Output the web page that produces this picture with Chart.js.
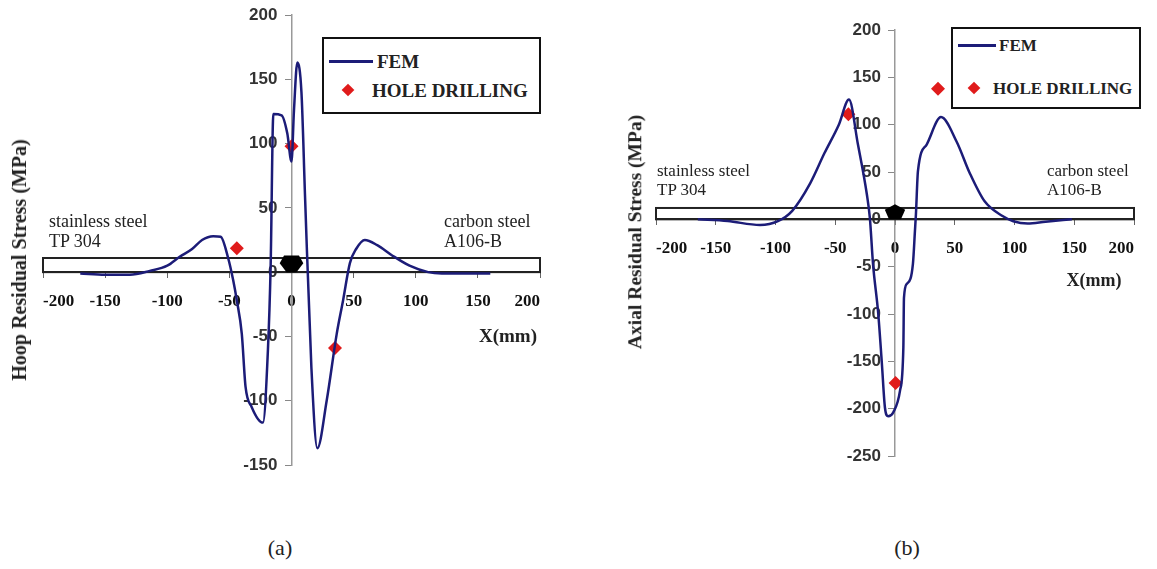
<!DOCTYPE html>
<html>
<head>
<meta charset="utf-8">
<script src="https://cdn.jsdelivr.net/npm/chart.js@4.4.1/dist/chart.umd.min.js"></script>
<style>
  body { margin: 0; background: #fff; }
  #page { position: relative; width: 1157px; height: 569px; overflow: hidden; font-family: 'Liberation Serif', serif; color: #222; }
  canvas { position: absolute; top: 0; }
  .lbl { position: absolute; white-space: nowrap; line-height: 1; }
  .legend { position: absolute; border: 2.5px solid #111; box-sizing: border-box; background: #fff; }
  .swatch { position: absolute; height: 3px; background: #1c1c78; }
  .diamond { position: absolute; width: 9px; height: 9px; background: #e01b1b; transform: translate(-50%, -50%) rotate(45deg); }
</style>
</head>
<body>
<div id="page">
  <canvas id="hoop" width="578" height="500" style="left:0"></canvas>
  <canvas id="axial" width="579" height="500" style="left:578px"></canvas>
</div>
<script>
// (a) hoop residual stress
const hoopFemX = [-170, -150, -130, -114, -100, -90, -80, -72, -63, -57, -51, -47, -44, -40, -37, -32, -23, -19, -16.8, -14.6, -8, -3.4, 0, 2, 4.7, 8, 11, 16, 20.8, 28.3, 36.4, 41.5, 47, 52, 59, 69, 81, 95, 110, 121, 160];
const hoopFemY = [-1, -2, -2, 1, 5, 12, 18, 25, 28, 27.5, 11, -6, -22, -48, -89, -105, -117, -61, 4, 123, 122, 108, 86, 126, 163, 140, 56, -74, -137, -100, -48, -22, 7, 18, 25, 21, 13, 5, 0, -1, -1];
const hoopHoleX = [-44, 0, 35];
const hoopHoleY = [18.5, 98, -59];

// (b) axial residual stress
const axialFemX = [-165, -140, -113, -98, -86, -71, -59, -47, -38.5, -31, -23.5, -21, -18.4, -14, -11, -8.4, -5.7, -1.5, 4.2, 7, 7.5, 10, 15, 16.7, 17.5, 19.2, 26.5, 38.5, 51.6, 62.5, 75, 90, 99, 111, 126, 148];
const axialFemY = [0, -1.8, -6, -2, 9, 38, 70, 100, 126.5, 79, 26, 1, -47, -100, -152, -199, -208, -204, -181, -135, -83, -68, -47, -12, 5, 51, 79, 108, 82, 49, 19, 3.5, -2, -4.5, -2.5, 0];
const axialHoleX = [-39, 0.5, 36];
const axialHoleY = [111, -173, 138];

const xRange = [-200, 200];
const hoopYRange = [-150, 200];
const axialYRange = [-250, 200];
const tickStep = 50;

// pipe wall outline and weld bead, in data units
const hoopPipeTop = 11;
const axialPipeTop = 12;
const hoopWeldX = [-6, 6, 9.5, 4, -4, -9.5];
const hoopWeldY = [13, 13, 7, 0, 0, 7];
const axialWeldX = [0, 8.5, 5, -5, -8.5];
const axialWeldY = [16, 10, 0, 0, 10];

const toPoints = (xs, ys) => xs.map((x, i) => ({x: x, y: ys[i]}));

const pipePlugin = {
  id: 'pipe',
  beforeDatasetsDraw(chart, args, opts) {
    const {x, y} = chart.scales;
    const ctx = chart.ctx;
    const l = x.getPixelForValue(x.min), r = x.getPixelForValue(x.max);
    const t = y.getPixelForValue(opts.top), b = y.getPixelForValue(0);
    ctx.save();
    ctx.strokeStyle = '#222';
    ctx.lineWidth = 2;
    ctx.strokeRect(l, t, r - l, b - t);
    ctx.restore();
  },
  afterDraw(chart, args, opts) {
    const {x, y} = chart.scales;
    const ctx = chart.ctx;
    ctx.save();
    ctx.beginPath();
    opts.weldX.forEach((wx, i) => {
      const px = x.getPixelForValue(wx), py = y.getPixelForValue(opts.weldY[i]);
      if (i) ctx.lineTo(px, py); else ctx.moveTo(px, py);
    });
    ctx.closePath();
    ctx.fillStyle = '#000';
    ctx.fill();
    ctx.restore();
  }
};

function makeChart(id, fem, holes, yRange, padding, pipe) {
  return new Chart(document.getElementById(id), {
    data: {
      datasets: [
        {type: 'line', label: 'FEM', data: fem, borderColor: '#1c1c78', borderWidth: 2.5,
         pointRadius: 0, cubicInterpolationMode: 'monotone', fill: false},
        {type: 'scatter', label: 'HOLE DRILLING', data: holes, pointStyle: 'rectRot',
         pointRadius: 7, backgroundColor: '#e01b1b', borderWidth: 0}
      ]
    },
    options: {
      responsive: false,
      animation: false,
      layout: {padding: padding},
      plugins: {legend: {display: false}, tooltip: {enabled: false}, pipe: pipe},
      scales: {
        x: {
          type: 'linear', min: xRange[0], max: xRange[1], position: {y: 0},
          ticks: {stepSize: tickStep, maxRotation: 0, autoSkip: false, color: '#111', padding: 14,
                  align: 'inner', font: {family: 'Liberation Serif', weight: 'bold', size: 17}},
          grid: {drawOnChartArea: false, tickLength: 5, color: '#666'},
          border: {color: '#222', width: 2},
          afterFit: (s) => { s.height = 0; }
        },
        y: {
          type: 'linear', min: yRange[0], max: yRange[1], position: {x: 0},
          ticks: {stepSize: tickStep, color: '#333',
                  // the centred axis puts labels flush on the line; trailing spaces give the gap
                  callback: (v) => v + '   ',
                  font: {family: 'Liberation Sans', weight: 'bold', size: 17}},
          grid: {drawOnChartArea: false, tickLength: 6, color: '#888'},
          border: {color: '#999', width: 1.5},
          afterFit: (s) => { s.width = 0; }
        }
      }
    },
    plugins: [pipePlugin]
  });
}

makeChart('hoop', toPoints(hoopFemX, hoopFemY), toPoints(hoopHoleX, hoopHoleY), hoopYRange,
  {left: 43, right: 38, top: 15, bottom: 35},
  {top: hoopPipeTop, weldX: hoopWeldX, weldY: hoopWeldY});
makeChart('axial', toPoints(axialFemX, axialFemY), toPoints(axialHoleX, axialHoleY), axialYRange,
  {left: 78, right: 23, top: 30, bottom: 44},
  {top: axialPipeTop, weldX: axialWeldX, weldY: axialWeldY});

// text around the plots
const page = document.getElementById('page');
function addText(text, x, y, size, bold, anchor, rotate) {
  const d = document.createElement('div');
  d.className = 'lbl';
  d.textContent = text;
  d.style.left = x + 'px';
  d.style.top = y + 'px';
  d.style.fontSize = size + 'px';
  d.style.fontWeight = bold ? 'bold' : 'normal';
  const tx = anchor === 'left' ? '0' : '-50%';
  d.style.transform = 'translate(' + tx + ', -50%)' + (rotate ? ' rotate(-90deg)' : '');
  if (rotate) d.style.transformOrigin = '50% 50%';
  page.appendChild(d);
  return d;
}
function addLegend(x, y, w, h, lineFrom, lineTo, femY, diamondX, holeY, textFem, textHole, size) {
  const box = document.createElement('div');
  box.className = 'legend';
  Object.assign(box.style, {left: x + 'px', top: y + 'px', width: w + 'px', height: h + 'px'});
  page.appendChild(box);
  const sw = document.createElement('div');
  sw.className = 'swatch';
  Object.assign(sw.style, {left: lineFrom + 'px', top: (femY - 1.5) + 'px', width: (lineTo - lineFrom) + 'px'});
  page.appendChild(sw);
  const dm = document.createElement('div');
  dm.className = 'diamond';
  Object.assign(dm.style, {left: diamondX + 'px', top: holeY + 'px'});
  page.appendChild(dm);
  addText('FEM', textFem, femY, size, true, 'left');
  addText('HOLE DRILLING', textHole, holeY, size, true, 'left');
}

addText('Hoop Residual Stress (MPa)', 19, 260, 20, true, 'center', true);
addText('stainless steel', 49, 221, 18, false, 'left');
addText('TP 304', 49, 241, 18, false, 'left');
addText('carbon steel', 444, 221, 18, false, 'left');
addText('A106-B', 444, 241, 18, false, 'left');
addText('X(mm)', 508, 335, 19, true, 'center');
addLegend(322, 37, 219, 77, 329, 373, 61, 348, 90, 377, 372, 19);

addText('Axial Residual Stress (MPa)', 635, 232, 19.5, true, 'center', true);
addText('stainless steel', 657, 170, 17, false, 'left');
addText('TP 304', 657, 189, 17, false, 'left');
addText('carbon steel', 1047, 170, 17, false, 'left');
addText('A106-B', 1047, 189, 17, false, 'left');
addText('X(mm)', 1094, 280, 18, true, 'center');
addLegend(951, 27, 190, 82, 958, 996, 45, 974, 88, 999, 993, 17);

addText('(a)', 280, 548, 22, false, 'center');
addText('(b)', 907, 548, 22, false, 'center');
</script>
</body>
</html>
